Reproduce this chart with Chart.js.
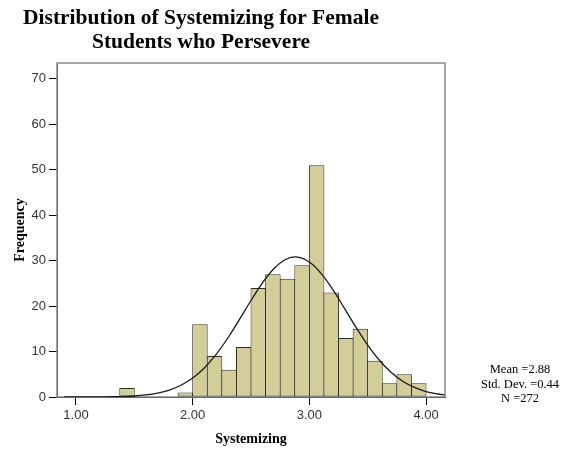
<!DOCTYPE html>
<html>
<head>
<meta charset="utf-8">
<script src="https://cdn.jsdelivr.net/npm/chart.js@4"></script>
<style>
  body { margin: 0; background: #fff; }
  #wrap { width: 576px; height: 452px; position: relative; }
</style>
</head>
<body>
<div id="wrap"><canvas id="histChart"></canvas></div>
<script>
// histogram bins: start of first bin, bin width, counts per bin
const binStart = 1.375;
const binWidth = 0.125;
const binCounts = [2, 0, 0, 0, 1, 16, 9, 6, 11, 24, 27, 26, 29, 51, 23, 13, 15, 8, 3, 5, 3];

// normal curve (x positions and heights)
const curveX = [0.9, 1.0, 1.1, 1.2, 1.3, 1.4, 1.5, 1.6, 1.7, 1.8, 1.9, 2.0, 2.1, 2.2, 2.3, 2.4, 2.5, 2.6, 2.7, 2.8, 2.9,
                3.0, 3.1, 3.2, 3.3, 3.4, 3.5, 3.6, 3.7, 3.8, 3.9, 4.0, 4.1, 4.16];
const curveY = [0.001, 0.003, 0.009, 0.02, 0.05, 0.11, 0.22, 0.45, 0.85, 1.51, 2.58, 4.17, 6.4, 9.34, 12.93, 17.01, 21.23, 25.18, 28.35, 30.32, 30.8,
                29.7, 27.21, 23.67, 19.55, 15.34, 11.42, 8.08, 5.43, 3.46, 2.1, 1.21, 0.66, 0.45];

const xTicks = [1, 2, 3, 4];
const yTicks = [0, 10, 20, 30, 40, 50, 60, 70];
const titleLines = ['Distribution of Systemizing for Female', 'Students who Persevere'];
const statLines = ['Mean =2.88', 'Std. Dev. =0.44', 'N =272'];

const barPoints = [];
binCounts.forEach(function(c, i) {
    if (c > 0) barPoints.push({ x: binStart + binWidth * i + binWidth / 2, y: c });
});
const curvePoints = curveX.map(function(x, i) { return { x: x, y: curveY[i] }; });

const extras = {
    id: 'extras',
    beforeDatasetsDraw(chart) {
        const ctx = chart.ctx;
        const a = chart.chartArea;
        ctx.save();
        ctx.strokeStyle = '#8a8a8a';
        ctx.lineWidth = 1.5;
        ctx.strokeRect(a.left, a.top, a.right - a.left, a.bottom - a.top);
        ctx.restore();
    },
    afterDraw(chart) {
        const ctx = chart.ctx;
        ctx.save();
        ctx.fillStyle = '#000';
        ctx.textAlign = 'center';
        ctx.textBaseline = 'middle';
        ctx.font = 'bold 21.5px "Liberation Serif"';
        ctx.fillText(titleLines[0], 201, 18);
        ctx.fillText(titleLines[1], 201, 42);
        ctx.font = '12.5px "Liberation Serif"';
        statLines.forEach(function(t, i) {
            ctx.fillText(t, 520, 370 + i * 14.5);
        });
        ctx.restore();
    }
};

new Chart(document.getElementById('histChart').getContext('2d'), {
    type: 'bar',
    data: {
        datasets: [{
            type: 'line',
            data: curvePoints,
            borderColor: '#1a1a1a',
            borderWidth: 1.3,
            pointRadius: 0,
            tension: 0.4,
            fill: false,
            order: 0
        }, {
            type: 'bar',
            data: barPoints,
            backgroundColor: '#d3ce97',
            borderColor: '#2b2b2b',
            borderWidth: 1,
            borderSkipped: false,
            barPercentage: 1.06,
            categoryPercentage: 1,
            order: 1
        }]
    },
    options: {
        responsive: true,
        maintainAspectRatio: false,
        animation: false,
        layout: { padding: { top: 63, right: 131, left: 0, bottom: 0 } },
        plugins: {
            legend: { display: false },
            tooltip: { enabled: false }
        },
        scales: {
            x: {
                type: 'linear',
                offset: false,
                min: 0.8375,
                max: 4.1625,
                afterBuildTicks: s => { s.ticks = xTicks.map(v => ({ value: v })); },
                afterFit: s => { s.height = 55; },
                grid: { display: true, offset: false, drawOnChartArea: false, drawTicks: true, tickLength: 8, color: '#000' },
                border: { display: true, color: '#000', width: 1 },
                ticks: {
                    color: '#333',
                    padding: 3,
                    maxRotation: 0,
                    font: { family: 'Liberation Sans', size: 13 },
                    callback: v => v.toFixed(2)
                },
                title: {
                    display: true,
                    text: 'Systemizing',
                    color: '#000',
                    font: { family: 'Liberation Serif', size: 14, weight: 'bold' },
                    padding: { top: 0, bottom: 4 }
                }
            },
            y: {
                min: 0,
                max: 73.5,
                afterBuildTicks: s => { s.ticks = yTicks.map(v => ({ value: v })); },
                afterFit: s => { s.width = 57; },
                grid: { display: true, drawOnChartArea: false, drawTicks: true, tickLength: 8, color: '#000' },
                border: { display: true, color: '#000', width: 1 },
                ticks: {
                    color: '#333',
                    padding: 3,
                    font: { family: 'Liberation Sans', size: 13 }
                },
                title: {
                    display: true,
                    text: 'Frequency',
                    color: '#000',
                    font: { family: 'Liberation Serif', size: 14, weight: 'bold' },
                    padding: { top: 12, bottom: 0 }
                }
            }
        }
    },
    plugins: [extras]
});
</script>
</body>
</html>
